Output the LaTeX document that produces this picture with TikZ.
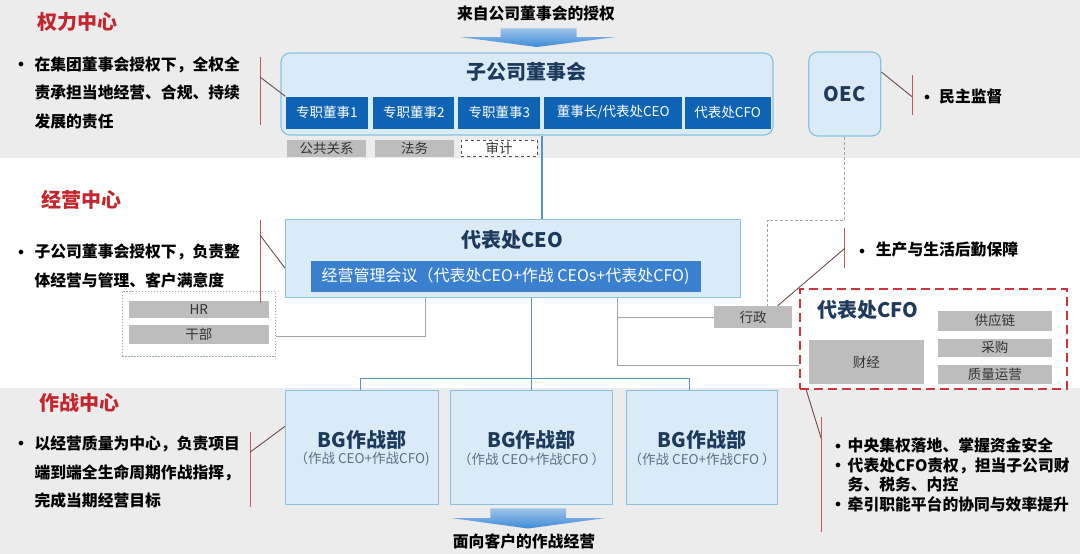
\documentclass[tikz,border=0pt]{standalone}
\usepackage{fontspec}
\setmainfont{Noto Sans CJK SC}
\usetikzlibrary{positioning}
\definecolor{band}{HTML}{ECECEC}
\definecolor{paleblue}{HTML}{DAEAF6}
\definecolor{edgeblue}{HTML}{86C4E0}
\definecolor{deepblue}{HTML}{0F63B5}
\definecolor{barblue}{HTML}{3A80CE}
\definecolor{inkblue}{HTML}{1D3A5C}
\definecolor{subgray}{HTML}{5C6F86}
\definecolor{titlered}{HTML}{C3262C}
\definecolor{barred}{HTML}{C9545A}
\definecolor{tiedark}{HTML}{6E4A4A}
\definecolor{cellgray}{HTML}{BDBDBD}
\definecolor{wireblue}{HTML}{5792C4}
\definecolor{wiregray}{HTML}{A3A3A3}
\definecolor{flowblue}{HTML}{3F8AD6}
\definecolor{cfored}{HTML}{D2333A}
\begin{document}
\begin{tikzpicture}[x=1pt,y=-1pt,
  board/.style={draw=edgeblue,fill=paleblue,line width=1.2pt,rounded corners=9pt},
  unit/.style={draw=edgeblue,fill=paleblue,line width=1pt},
  seat/.style={fill=deepblue,text=white,minimum height=32pt,inner sep=0pt,font=\fontsize{13.5}{15}\selectfont},
  cell/.style={fill=cellgray,text=black!80,inner sep=0pt,font=\fontsize{13.5}{15}\selectfont},
  boss/.style={text=inkblue,font=\bfseries\fontsize{20}{24}\selectfont},
  sub/.style={text=subgray,font=\fontsize{13.5}{15}\selectfont},
  zone/.style={anchor=west,text=titlered,font=\bfseries\fontsize{20}{24}\selectfont},
  note/.style={anchor=north west,align=left,inner sep=0pt,font=\bfseries\fontsize{15.8}{28.5}\selectfont},
  line/.style={anchor=west,inner sep=0pt,font=\bfseries\fontsize{15.8}{18}\selectfont},
  dot/.style={inner sep=0pt,yshift=-1.5pt,font=\fontsize{13}{13}\selectfont},
  caption/.style={font=\bfseries\fontsize{15.8}{18}\selectfont},
  wire/.style={wireblue,line width=1.2pt},
  side/.style={wiregray,line width=0.9pt},
  tiebar/.style={barred,line width=1pt},
  tie/.style={tiedark,line width=0.9pt},
  flow/.style={top color=flowblue!50,bottom color=flowblue}]
\useasboundingbox (0,0) rectangle (1080,554);
\fill[band] (0,0) rectangle (1080,158);
\fill[band] (0,388) rectangle (1080,554);

\node[caption] (grant) at (536,13) {来自公司董事会的授权};
\shade[flow] (500.7,28.3) -- (576.5,28.3) -- (576.5,37) -- (616,37) -- (537,47) -- (459.4,37) -- (500.7,37) -- cycle;

\node[board,minimum width=492pt,minimum height=82pt] (board) at (527,94) {};
\node[boss] (boardhd) at (526,72) {子公司董事会};
\node[seat,minimum width=82.5pt] (s1) at (326.75,112.5) {专职董事1};
\node[seat,minimum width=81pt,right=5pt of s1] (s2) {专职董事2};
\node[seat,minimum width=82pt,right=3.5pt of s2] (s3) {专职董事3};
\node[seat,minimum width=138pt,right=3.5pt of s3] (s4) {董事长/代表处CEO};
\node[seat,minimum width=86pt,right=2pt of s4] (s5) {代表处CFO};
\node[cell,minimum width=79.4pt,minimum height=16.7pt] (pr) at (326.7,148.3) {公共关系};
\node[cell,minimum width=79pt,minimum height=16.7pt] (legal) at (414.5,148.3) {法务};
\node[cell,fill=white,draw=black!70,dashed,minimum width=76pt,minimum height=16.7pt] (audit) at (499,148.3) {审计};

\node[board,boss,minimum width=72pt,minimum height=84pt] (oec) at (844.8,94) {OEC};
\draw[tie] ([yshift=22pt]oec.east) -- (912,96.7);
\draw[tiebar] (912,75) -- (912,115);
\node[dot] at (927,96.7) {$\bullet$};
\node[line] (vote) at (939,96.7) {民主监督};

\node[zone] (powhd) at (34,21.7) {权力中心};
\node[dot] at (21,63.3) {$\bullet$};
\node[note] (pownote) at (34.4,56.2) {在集团董事会授权下，全权全\\责承担当地经营、合规、持续\\发展的责任};
\draw[tiebar] (260,56.7) -- (260,125);
\draw[tie] (260,77) -- (s1.north west);

\coordinate (trunk) at (542,0);
\node[unit,minimum width=454.5pt,minimum height=77.7pt] (ceo) at (512.75,258.2) {};
\node[boss] (ceohd) at (512,240) {代表处CEO};
\node[fill=barblue,text=white,minimum width=390pt,minimum height=31pt,inner sep=0pt,font=\fontsize{16}{18}\selectfont] (meet) at (505.5,276.5) {经营管理会议（代表处CEO+作战 CEOs+代表处CFO)};
\draw[wire] (trunk |- board.south) -- (trunk |- ceo.north);

\node[zone] (opshd) at (38,200) {经营中心};
\node[dot] at (21,251) {$\bullet$};
\node[note] (opsnote) at (34.4,243.9) {子公司董事会授权下，负责整\\体经营与管理、客户满意度};

\node[draw=wiregray!70!edgeblue,dash pattern=on 1.5pt off 1.5pt,line width=1pt,minimum width=153.5pt,minimum height=65pt] (staff) at (198.75,324.2) {};
\node[cell,minimum width=139.6pt,minimum height=17.6pt] (hr) at (198.8,309.5) {HR};
\node[cell,minimum width=139.6pt,minimum height=19pt] (cadre) at (198.8,334.5) {干部};
\coordinate (hrtap) at (425,336);
\draw[side] (ceo.south -| hrtap) -- (hrtap) -- (hrtap -| staff.east);
\draw[tiebar] (260,220) -- (260,303.3);
\draw[tie] (260,235) -- ([yshift=-10pt]ceo.west);

\node[cell,minimum width=77.5pt,minimum height=22pt] (admin) at (753,317) {行政};
\node[draw=cfored,fill=white,dash pattern=on 9pt off 5pt,line width=1.6pt,minimum width=267pt,minimum height=100pt] (cfo) at (933.5,339) {};
\node[boss,anchor=west] (cfohd) at (814,310) {代表处CFO};
\node[cell,minimum width=115.4pt,minimum height=44pt] (fin) at (866.3,362) {财经};
\node[cell,minimum width=114.3pt,minimum height=20pt] (supply) at (994.85,320.7) {供应链};
\node[cell,minimum width=114.3pt,minimum height=18pt] (buy) at (994.85,347.6) {采购};
\node[cell,minimum width=114.3pt,minimum height=19pt] (quality) at (994.85,374.5) {质量运营};

\coordinate (oecbend) at (844.8,220);
\draw[side,dash pattern=on 3pt off 2pt] (oec.south) -- (oecbend) -| ([xshift=14.6pt]admin.north);
\coordinate (cfotap) at (617.8,365);
\draw[side] (ceo.south -| cfotap) -- (cfotap) -- (cfotap -| cfo.west);
\draw[side] (cfotap |- admin.west) -- (admin.west);
\draw[tiebar] (844.8,228.3) -- (844.8,268.3);
\draw[tie] (844.8,248.3) -- ([xshift=24.6pt]admin.north);
\node[dot] at (862,250) {$\bullet$};
\node[line] (logi) at (875.7,250) {生产与生活后勤保障};

\node[unit,minimum width=153.2pt,minimum height=113.3pt] (bg1) at (362.1,447.35) {};
\node[unit,minimum width=161.8pt,minimum height=113.3pt] (bg2) at (531.7,447.35) {};
\node[unit,minimum width=151.5pt,minimum height=113.3pt] (bg3) at (702.15,447.35) {};
\node[boss] at ([yshift=7.35pt]bg1.center) {BG作战部};
\node[sub] at ([yshift=-12pt]bg1.center) {（作战 CEO+作战CFO)};
\node[boss] at ([yshift=7.35pt]bg2.center) {BG作战部};
\node[sub] at ([yshift=-12pt]bg2.center) {（作战 CEO+作战CFO ）};
\node[boss] at ([yshift=7.35pt]bg3.center) {BG作战部};
\node[sub] at ([yshift=-12pt]bg3.center) {（作战 CEO+作战CFO ）};
\coordinate (split) at (531.7,378.3);
\draw[wire] (ceo.south -| split) -- (bg2.north);
\draw[wire] ([xshift=-2pt]bg1.north) -- ([xshift=-2pt]bg1.north |- split) -- ([xshift=-13pt]bg3.north |- split) -- ([xshift=-13pt]bg3.north);

\node[zone] (warhd) at (36,403.3) {作战中心};
\node[dot] at (21,442.7) {$\bullet$};
\node[note] (warnote) at (34.4,435.6) {以经营质量为中心，负责项目\\端到端全生命周期作战指挥，\\完成当期经营目标};
\draw[tiebar] (250.7,431.7) -- (250.7,506.7);
\draw[tie] (250.7,451.7) -- ([yshift=21pt]bg1.west);

\draw[tie] ([xshift=7pt]cfo.south west) -- (821.7,440);
\draw[tiebar] (821.7,416.7) -- (821.7,531.7);
\node[dot] at (838,445) {$\bullet$};
\node[dot] at (838,464.4) {$\bullet$};
\node[dot] at (838,503.2) {$\bullet$};
\node[note,font=\bfseries\fontsize{15.8}{19.4}\selectfont] (cfonote) at (847.5,437.9) {中央集权落地、掌握资金安全\\代表处CFO责权，担当子公司财\\务、税务、内控\\牵引职能平台的协同与效率提升};

\shade[flow] (490.4,508.3) -- (566,508.3) -- (566,518) -- (605.7,518) -- (528,528.5) -- (450.8,518) -- (490.4,518) -- cycle;
\node[caption] (front) at (524,541.7) {面向客户的作战经营};
\end{tikzpicture}
\end{document}
